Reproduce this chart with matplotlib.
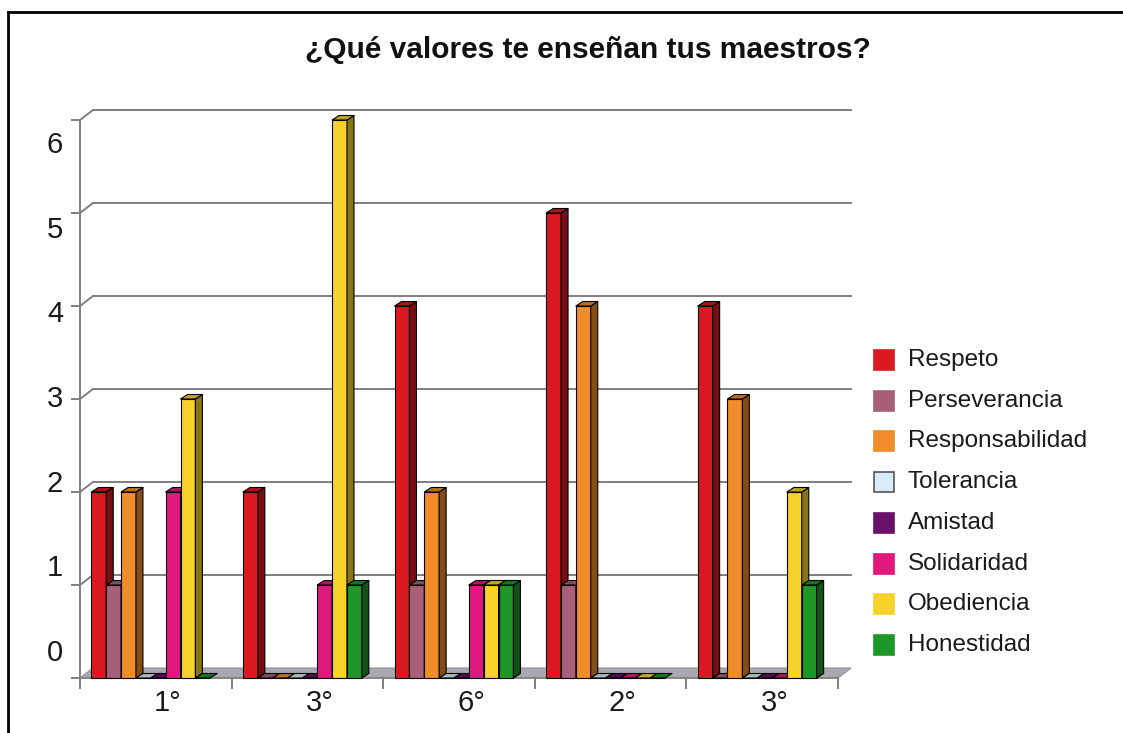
import matplotlib
matplotlib.use("Agg")
import matplotlib.pyplot as plt
import numpy as np
from matplotlib.patches import Polygon, Rectangle
from matplotlib.collections import PolyCollection
from matplotlib.colors import to_rgb

plt.rcParams['font.family'] = ['Liberation Sans', 'DejaVu Sans']

title = "¿Qué valores te enseñan tus maestros?"
categories = ["1°", "3°", "6°", "2°", "3°"]
series = ["Respeto", "Perseverancia", "Responsabilidad", "Tolerancia",
          "Amistad", "Solidaridad", "Obediencia", "Honestidad"]
respeto = [2, 2, 4, 5, 4]
perseverancia = [1, 0, 1, 1, 0]
responsabilidad = [2, 0, 2, 4, 3]
tolerancia = [0, 0, 0, 0, 0]
amistad = [0, 0, 0, 0, 0]
solidaridad = [2, 1, 1, 0, 0]
obediencia = [3, 6, 1, 0, 2]
honestidad = [0, 1, 1, 0, 1]
values = [respeto, perseverancia, responsabilidad, tolerancia,
          amistad, solidaridad, obediencia, honestidad]
yticks = [0, 1, 2, 3, 4, 5, 6]

colors = ["#DA1A20", "#A8607A", "#F08C2A", "#D8ECF8",
          "#6A0F6A", "#E0197F", "#F7D22B", "#1E9628"]

W, H = 1123, 733
fig = plt.figure(figsize=(W / 100, H / 100), dpi=100)
fig.patch.set_facecolor("white")

# axes: x from -0.5..4.5 at px 80..838 ; y 0..6 at px 678..120
ax = fig.add_axes([80 / W, (H - 678) / H, 758 / W, 558 / H])
ax.set_xlim(-0.5, 4.5)
ax.set_ylim(0, 6)
ax.axis("off")

PX = 5 / 758.0
PY = 6 / 558.0
wdx, wdy = 13 * PX, 10 * PY
bdx, bdy = 7 * PX, 4.5 * PY
grid_c = "#7F7F7F"

# floor
ax.add_patch(Polygon([(-0.5, 0), (4.5, 0), (4.5 + wdx, wdy), (-0.5 + wdx, wdy)],
                     closed=True, facecolor="#A8A8B0", edgecolor="#909098",
                     lw=0.8, clip_on=False, zorder=1))
# grid / wall
for v in yticks:
    if v > 0:
        ax.plot([-0.5 + wdx, 4.5 + wdx], [v + wdy, v + wdy], color=grid_c, lw=1.4,
                clip_on=False, zorder=0.5)
        ax.plot([-0.5, -0.5 + wdx], [v, v + wdy], color=grid_c, lw=1.4,
                clip_on=False, zorder=0.5)
    ax.plot([-0.5 - 8 * PX, -0.5], [v, v], color=grid_c, lw=1.4, clip_on=False)
    ax.text(-0.5 - 17 * PX, 0.27 + v * 0.91, str(v), ha="right", va="center",
            fontsize=21, color="#1a1a1a")
ax.plot([-0.5, -0.5], [0, 6], color=grid_c, lw=1.4, clip_on=False, zorder=0.6)
ax.plot([-0.5, 4.5], [0, 0], color=grid_c, lw=1.2, clip_on=False, zorder=1.2)

# category ticks & labels
for k in range(len(categories) + 1):
    xb = -0.5 + k
    ax.plot([xb, xb], [0, -10 * PY], color=grid_c, lw=1.4, clip_on=False)
for k, lab in enumerate(categories):
    ax.text(k + 0.08, -25 * PY, lab, ha="center", va="center", fontsize=21,
            color="#1a1a1a", clip_on=False)

# bars
n = len(series)
bw = 0.098
xc = np.arange(len(categories)) - 0.033
for i, (name, vals, col) in enumerate(zip(series, values, colors)):
    x = xc + (i - (n - 1) / 2) * bw
    z = 3 + i
    rgb = np.array(to_rgb(col))
    side = tuple(rgb * 0.55)
    top = tuple(rgb * 0.78)
    ax.bar(x, vals, width=bw, color=col, edgecolor="black", lw=0.8, zorder=z,
           clip_on=False)
    sides, tops = [], []
    for xi, v in zip(x, vals):
        xl, xr = xi - bw / 2, xi + bw / 2
        if v > 0:
            sides.append([(xr, 0), (xr + bdx, bdy), (xr + bdx, v + bdy), (xr, v)])
        tops.append([(xl, v), (xr, v), (xr + bdx, v + bdy), (xl + bdx, v + bdy)])
    ax.add_collection(PolyCollection(sides, facecolors=side, edgecolors="black",
                                     linewidths=0.8, zorder=z, clip_on=False))
    ax.add_collection(PolyCollection(tops, facecolors=top, edgecolors="black",
                                     linewidths=0.8, zorder=z, clip_on=False))

# legend (manual)
for k, (name, col) in enumerate(zip(series, colors)):
    yc = 360 + 40.7 * k
    ec = "#555555" if name == "Tolerancia" else col
    fig.add_artist(Rectangle((874 / W, 1 - (yc + 10) / H), 20 / W, 20 / H,
                             facecolor=col, edgecolor=ec, lw=1.2,
                             transform=fig.transFigure))
    fig.text(908 / W, 1 - yc / H, name, ha="left", va="center", fontsize=17.5,
             color="#1a1a1a")

# title
fig.text(588 / W, 1 - 50 / H, title, ha="center", va="center", fontsize=21.5,
         fontweight="bold", color="#111111")

# border (left & top)
fig.add_artist(plt.Line2D([8 / W, 8 / W], [0, 1 - 12 / H], color="black", lw=2,
                          transform=fig.transFigure))
fig.add_artist(plt.Line2D([8 / W, 1], [1 - 12 / H, 1 - 12 / H], color="black", lw=2,
                          transform=fig.transFigure))

fig.savefig("out.png", dpi=100, facecolor="white")
